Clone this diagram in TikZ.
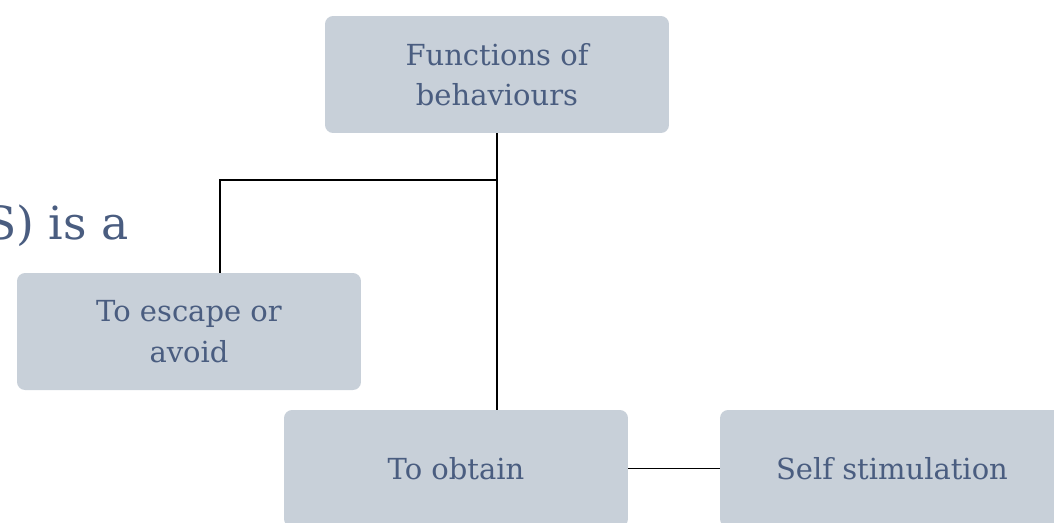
\documentclass[tikz,border=0pt]{standalone}
\usepackage{fontspec}
\setmainfont{DejaVu Serif}
\definecolor{boxfill}{RGB}{200,208,217}
\definecolor{boxtext}{RGB}{74,93,128}
\tikzset{
  funcbox/.style={rectangle, rounded corners=0.16cm, fill=boxfill, text=boxtext,
    minimum width=6.88cm, minimum height=2.34cm, align=center,
    font=\fontsize{16.5}{23}\selectfont},
  link/.style={draw=black, line width=0.8pt}
}
\begin{document}
\begin{tikzpicture}[x=0.02cm,y=-0.02cm]
    \clip (0,0) rectangle (1054,522);
    \fill[white] (0,0) rectangle (1054,522);

    \node[text=boxtext, anchor=base east, font=\fontsize{26}{30}\selectfont] (intro) at (135,239) {S) is a};

    \node[funcbox] (functions) at (497,74.5) {Functions of\\behaviours};
    \node[funcbox] (escape) at (189,331.5) {To escape or\\avoid};
    \node[funcbox] (obtain) at (456,468.5) {To obtain};
    \node[funcbox] (selfstim) at (892,468.5) {Self stimulation};

    \coordinate (split) at (497,180);
    \coordinate (escapetop) at (220,273);

    \draw[link] (functions.south) -- (functions.south |- obtain.north);
    \draw[link] (split) -| (escapetop);
    \draw[link] (obtain.east) -- (selfstim.west);

\end{tikzpicture}
\end{document}
